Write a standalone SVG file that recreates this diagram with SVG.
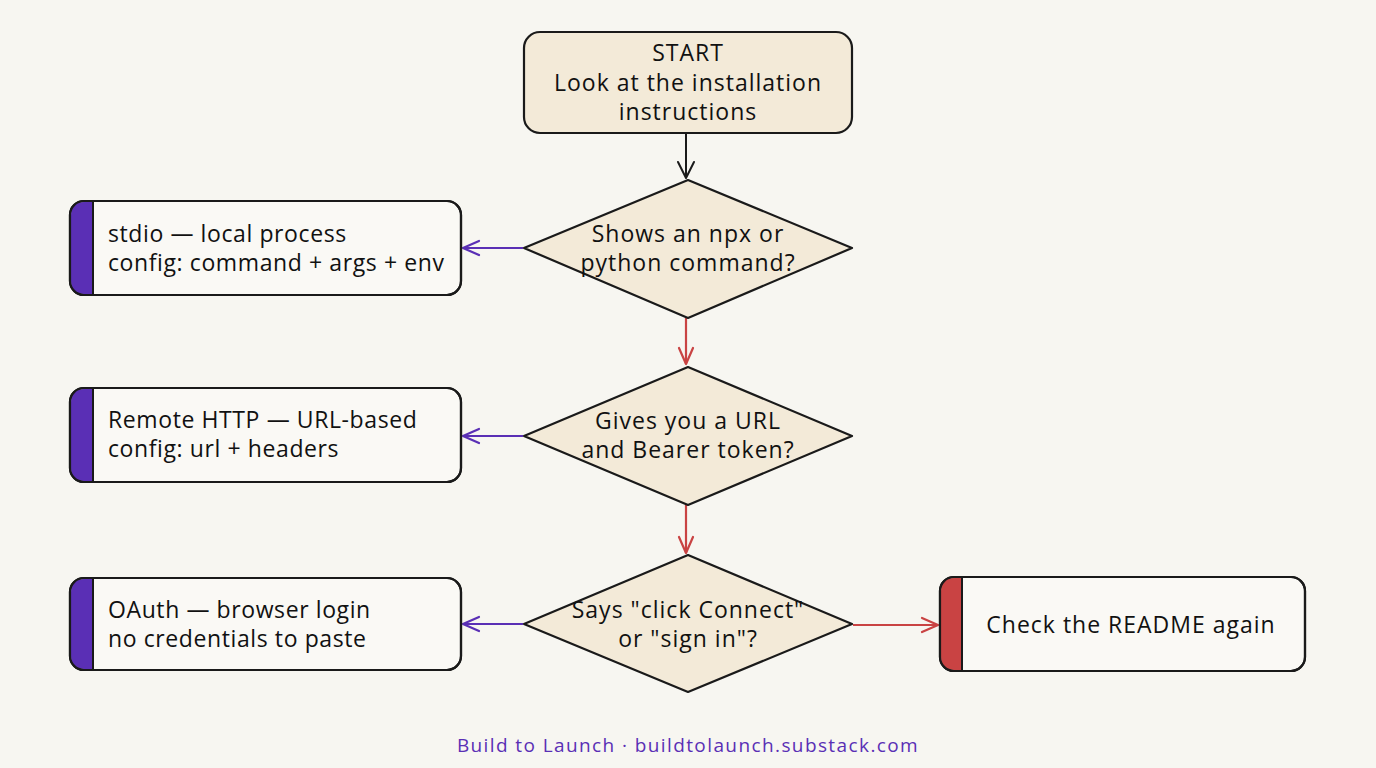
<svg xmlns="http://www.w3.org/2000/svg" width="1376" height="768" viewBox="0 0 1376 768">
<defs>
<style>
.bg{fill:#f7f6f1}
.box{fill:#faf9f5;stroke:#1a1a1a;stroke-width:2.2}
.start{fill:#f3ead8;stroke:#1a1a1a;stroke-width:2.2}
.dia{fill:#f3ead8;stroke:#1a1a1a;stroke-width:2.2;stroke-linejoin:round}
.sp{fill:#5a2fb5}
.sr{fill:#c94343}
.t{font-family:"Open Sans","Liberation Sans",sans-serif;font-size:23px;letter-spacing:1px;fill:#111}
.l{letter-spacing:0.6px}
.c{text-anchor:middle}
.ck{stroke:#1a1a1a;stroke-width:2;fill:none}
.cp{stroke:#5a2fb5;stroke-width:2.2;fill:none}
.cr{stroke:#c94343;stroke-width:2.2;fill:none}
.foot{font-family:"Open Sans","Liberation Sans",sans-serif;font-size:19px;letter-spacing:1.4px;fill:#5a2fb5;text-anchor:middle}
</style>
<marker id="ak" viewBox="0 0 20 20" refX="18" refY="10" markerWidth="20" markerHeight="20" markerUnits="userSpaceOnUse" orient="auto"><path d="M2,2 L18,10 L2,18" fill="none" stroke="#1a1a1a" stroke-width="2" stroke-linecap="round" stroke-linejoin="round"/></marker>
<marker id="ap" viewBox="0 0 20 20" refX="18" refY="10" markerWidth="20" markerHeight="20" markerUnits="userSpaceOnUse" orient="auto"><path d="M2,3 L18,10 L2,17" fill="none" stroke="#5a2fb5" stroke-width="2.2" stroke-linecap="round" stroke-linejoin="round"/></marker>
<marker id="ar" viewBox="0 0 20 20" refX="18" refY="10" markerWidth="20" markerHeight="20" markerUnits="userSpaceOnUse" orient="auto"><path d="M2,3 L18,10 L2,17" fill="none" stroke="#c94343" stroke-width="2.2" stroke-linecap="round" stroke-linejoin="round"/></marker>
</defs>
<rect class="bg" x="0" y="0" width="1376" height="768"/>

<g id="connectors">
<line class="ck" x1="686" y1="134" x2="686" y2="178" marker-end="url(#ak)"/>
<line class="cr" x1="686" y1="318" x2="686" y2="364" marker-end="url(#ar)"/>
<line class="cr" x1="686" y1="505" x2="686" y2="553" marker-end="url(#ar)"/>
<line class="cp" x1="523" y1="248" x2="463" y2="248" marker-end="url(#ap)"/>
<line class="cp" x1="523" y1="436" x2="463" y2="436" marker-end="url(#ap)"/>
<line class="cp" x1="523" y1="624" x2="463" y2="624" marker-end="url(#ap)"/>
<line class="cr" x1="853" y1="625" x2="938" y2="625" marker-end="url(#ar)"/>
</g>

<g id="start">
<rect class="start" x="524" y="32" width="328" height="101" rx="16"/>
<text class="t c" x="688" y="61">START</text>
<text class="t c" x="688" y="91">Look at the installation</text>
<text class="t c" x="688" y="120">instructions</text>
</g>

<g id="q1">
<polygon class="dia" points="688,180 852,248 688,318 524,248"/>
<text class="t c" x="688" y="242">Shows an npx or</text>
<text class="t c" x="688" y="271">python command?</text>
</g>

<g id="q2">
<polygon class="dia" points="688,367 852,436 688,505 524,436"/>
<text class="t c" x="688" y="429">Gives you a URL</text>
<text class="t c" x="688" y="458">and Bearer token?</text>
</g>

<g id="q3">
<polygon class="dia" points="688,555 852,624 688,692 524,624"/>
<text class="t c" x="688" y="618">Says "click Connect"</text>
<text class="t c" x="688" y="647">or "sign in"?</text>
</g>

<g id="stdio">
<rect class="box" x="70" y="201" width="391" height="94" rx="14"/>
<path class="sp" d="M93,202 H84 Q71,202 71,215 V281 Q71,294 84,294 H93 Z"/>
<rect x="70" y="201" width="391" height="94" rx="14" fill="none" stroke="#1a1a1a" stroke-width="2.2"/>
<line x1="93" y1="201" x2="93" y2="295" stroke="#1a1a1a" stroke-width="2"/>
<text class="t l" x="108" y="242">stdio — local process</text>
<text class="t l" x="108" y="271">config: command + args + env</text>
</g>

<g id="http">
<rect class="box" x="70" y="388" width="391" height="94" rx="14"/>
<path class="sp" d="M93,389 H84 Q71,389 71,402 V468 Q71,481 84,481 H93 Z"/>
<rect x="70" y="388" width="391" height="94" rx="14" fill="none" stroke="#1a1a1a" stroke-width="2.2"/>
<line x1="93" y1="388" x2="93" y2="482" stroke="#1a1a1a" stroke-width="2"/>
<text class="t l" x="108" y="428">Remote HTTP — URL-based</text>
<text class="t l" x="108" y="457">config: url + headers</text>
</g>

<g id="oauth">
<rect class="box" x="70" y="578" width="391" height="92" rx="14"/>
<path class="sp" d="M93,579 H84 Q71,579 71,592 V656 Q71,669 84,669 H93 Z"/>
<rect x="70" y="578" width="391" height="92" rx="14" fill="none" stroke="#1a1a1a" stroke-width="2.2"/>
<line x1="93" y1="578" x2="93" y2="670" stroke="#1a1a1a" stroke-width="2"/>
<text class="t l" x="108" y="618">OAuth — browser login</text>
<text class="t l" x="108" y="647">no credentials to paste</text>
</g>

<g id="readme">
<rect class="box" x="940" y="577" width="365" height="94" rx="14"/>
<path class="sr" d="M962,578 H954 Q941,578 941,591 V657 Q941,670 954,670 H962 Z"/>
<rect x="940" y="577" width="365" height="94" rx="14" fill="none" stroke="#1a1a1a" stroke-width="2.2"/>
<line x1="962" y1="577" x2="962" y2="671" stroke="#1a1a1a" stroke-width="2"/>
<text class="t c" x="1131" y="633">Check the README again</text>
</g>

<g id="footer">
<text class="foot" x="688" y="752">Build to Launch · buildtolaunch.substack.com</text>
</g>
</svg>
